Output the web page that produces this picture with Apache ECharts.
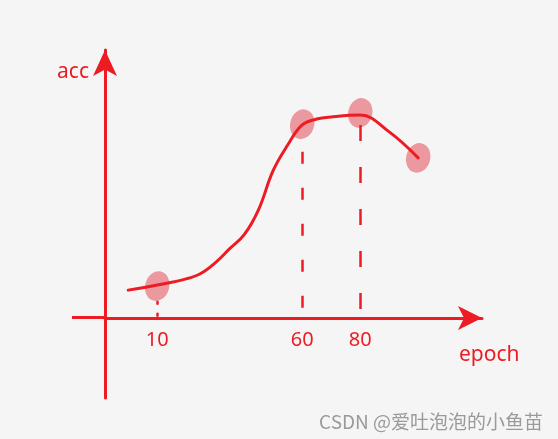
<!DOCTYPE html>
<html>
<head>
<meta charset="utf-8">
<script src="https://cdn.jsdelivr.net/npm/echarts@6/dist/echarts.min.js"></script>
<style>html,body{margin:0;padding:0;background:#f5f5f5;}#c{width:558px;height:439px;}</style>
</head>
<body>
<div id="c"></div>
<script>
// sketch curve: epoch vs accuracy
const epochs = [0, 10, 20, 25, 30, 35, 40, 45, 50, 55, 60, 65, 70, 80, 90, 100];
const accValues = [0.103, 0.122, 0.145, 0.165, 0.205, 0.258, 0.31, 0.405, 0.55, 0.645, 0.72, 0.742, 0.75, 0.757, 0.694, 0.597];
// highlighted points
const markEpochs = [10, 60, 80, 100];
const markAcc = [0.118, 0.723, 0.765, 0.597];
// guide lines down to axis
const guideEpochs = [10, 60, 80];
const guideAcc = [0.06, 0.62, 0.72];
// tick labels shown on x axis
const tickLabels = [10, 60, 80];

const RED = '#ed1c24';
const chart = echarts.init(document.getElementById('c'), null, {renderer: 'canvas'});

const guideStyles = [
  {type: [2, 10], width: 2.5, cap: 'round'},
  {type: [12, 24], width: 2.5},
  {type: [16, 26], width: 2.5}
];

chart.setOption({
  backgroundColor: '#f5f5f5',
  animation: false,
  grid: {left: 105, right: 76, top: 50, bottom: 41},
  xAxis: {
    type: 'value', min: -8, max: 122,
    position: 'bottom', offset: -80,
    axisLine: {onZero: false, lineStyle: {color: RED, width: 3}, symbol: ['none', 'arrow'], symbolSize: [18, 24]},
    axisTick: {show: false},
    splitLine: {show: false},
    axisLabel: {customValues: tickLabels, color: RED, fontSize: 20, fontFamily: 'Noto Sans', margin: 12},
    name: 'epoch', nameLocation: 'end', nameGap: -23,
    nameTextStyle: {color: RED, fontSize: 21, fontFamily: 'Noto Sans', align: 'left', verticalAlign: 'top', padding: [27, 0, 0, 0]}
  },
  yAxis: {
    type: 'value', min: -0.3, max: 1.0,
    axisLine: {show: true, onZero: false, lineStyle: {color: RED, width: 3}, symbol: ['none', 'arrow'], symbolSize: [18, 26]},
    axisTick: {show: false},
    splitLine: {show: false},
    axisLabel: {show: false},
    name: 'acc', nameLocation: 'end', nameGap: -22,
    nameTextStyle: {color: RED, fontSize: 21, fontFamily: 'Noto Sans', align: 'right', verticalAlign: 'middle', padding: [0, 16, 0, 0]}
  },
  series: [
    {
      type: 'scatter', z: 1,
      data: markEpochs.map((e, i) => [e, markAcc[i]]),
      symbol: 'circle', symbolSize: [24, 30], symbolRotate: -15,
      itemStyle: {color: 'rgba(228, 100, 108, 0.8)'},
      markLine: {
        silent: true, symbol: 'none', label: {show: false},
        data: guideEpochs.map((e, i) => [
          {coord: [e, guideAcc[i]], lineStyle: Object.assign({color: RED}, guideStyles[i])},
          {coord: [e, 0]}
        ])
      }
    },
    {
      type: 'line', z: 3,
      data: epochs.map((e, i) => [e, accValues[i]]),
      smooth: 0.4, showSymbol: false,
      lineStyle: {color: RED, width: 3, cap: 'round'}
    }
  ],
  graphic: [
    {type: 'line', shape: {x1: 72, y1: 317.5, x2: 105, y2: 317.5}, style: {stroke: RED, lineWidth: 3}},
    {type: 'text', right: 15, bottom: 8,
     style: {text: 'CSDN @爱吐泡泡的小鱼苗', fill: '#9a9a9a', font: '19px "Noto Sans CJK SC", "Noto Sans"',
             textShadowColor: '#ffffff', textShadowOffsetX: 1, textShadowOffsetY: 1}}
  ]
});
</script>
</body>
</html>
